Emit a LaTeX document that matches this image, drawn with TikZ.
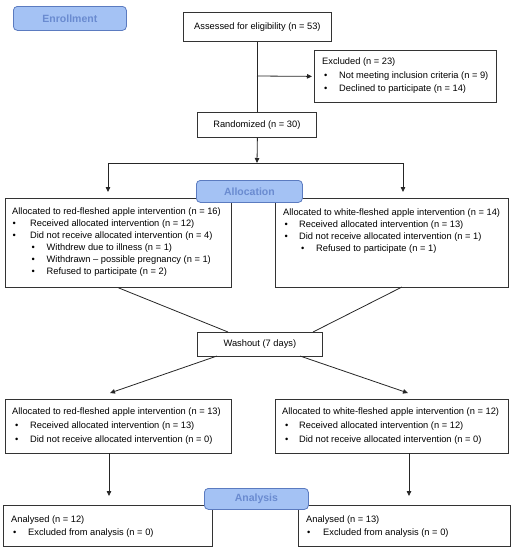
\documentclass[tikz,border=0pt]{standalone}
\usepackage{fontspec}
\setmainfont{Liberation Sans}
\usetikzlibrary{arrows.meta}
\definecolor{lblfill}{HTML}{A4C2F4}
\definecolor{lbldraw}{HTML}{5B7BC0}
\definecolor{lbltext}{HTML}{6A8BD0}
\definecolor{boxline}{HTML}{333333}
\tikzset{
  box/.style={draw=boxline, line width=0.8pt, inner sep=0pt, anchor=north west, font=\fontsize{9.3}{12}\selectfont},
  lbl/.style={draw=lbldraw, fill=lblfill, line width=0.8pt, rounded corners=4pt, inner sep=0pt, anchor=north west, text=lbltext, font=\fontsize{10.5}{12}\selectfont\bfseries},
  txt/.style={anchor=north west, inner sep=0pt, align=left, font=\fontsize{9.3}{12}\selectfont},
  conn/.style={draw=black!85, line width=0.8pt},
  arr/.style={conn, -{Triangle[length=5pt,width=4.5pt]}}
}
\begin{document}
\begin{tikzpicture}[x=1pt,y=-1pt]
\useasboundingbox (0,0) rectangle (513,550);
% boxes
\node[box, minimum width=148pt, minimum height=29pt] (assess) at (183,12) {Assessed for eligibility (n = 53)};
\node[box, minimum width=182pt, minimum height=52pt] (excl) at (314,50) {};
\node[box, minimum width=119pt, minimum height=25pt] (rand) at (197,112) {Randomized (n = 30)};
\node[box, minimum width=226pt, minimum height=89pt] (allocL) at (5,198) {};
\node[box, minimum width=233pt, minimum height=89pt] (allocR) at (275,198) {};
\node[box, minimum width=125pt, minimum height=24pt] (wash) at (197,332) {Washout (7 days)};
\node[box, minimum width=226pt, minimum height=54pt] (fuL) at (5,399) {};
\node[box, minimum width=233pt, minimum height=54pt] (fuR) at (275,399) {};
\node[box, minimum width=209pt, minimum height=41pt] (anL) at (3,505) {};
\node[box, minimum width=212pt, minimum height=41pt] (anR) at (298,505) {};
% texts
\node[txt, font=\fontsize{9.3}{13.5}\selectfont] (exclT) at (322,58) {Excluded (n = 23)\\
\hspace*{2pt}\makebox[15pt][l]{\textbullet}Not meeting inclusion criteria (n = 9)\\
\hspace*{2pt}\makebox[15pt][l]{\textbullet}Declined to participate (n = 14)};
\node[txt] (allocLT) at (12,207.5) {Allocated to red-fleshed apple intervention (n = 16)\\
\hspace*{0.5pt}\makebox[17.5pt][l]{\textbullet}Received allocated intervention (n = 12)\\
\hspace*{0.5pt}\makebox[17.5pt][l]{\textbullet}Did not receive allocated intervention (n = 4)\\
\hspace*{19.5pt}\makebox[15pt][l]{\textbullet}Withdrew due to illness (n = 1)\\
\hspace*{19.5pt}\makebox[15pt][l]{\textbullet}Withdrawn -- possible pregnancy (n = 1)\\
\hspace*{19.5pt}\makebox[15pt][l]{\textbullet}Refused to participate (n = 2)};
\node[txt, font=\fontsize{9.3}{11.7}\selectfont] (allocRT) at (283,209) {Allocated to white-fleshed apple intervention (n = 14)\\
\hspace*{1.5pt}\makebox[14.5pt][l]{\textbullet}Received allocated intervention (n = 13)\\
\hspace*{1.5pt}\makebox[14.5pt][l]{\textbullet}Did not receive allocated intervention (n = 1)\\
\hspace*{18pt}\makebox[15pt][l]{\textbullet}Refused to participate (n = 1)};
\node[txt, font=\fontsize{9.3}{14}\selectfont] (fuLT) at (12,407.5) {Allocated to red-fleshed apple intervention (n = 13)\\
\hspace*{3pt}\makebox[15pt][l]{\textbullet}Received allocated intervention (n = 13)\\
\hspace*{3pt}\makebox[15pt][l]{\textbullet}Did not receive allocated intervention (n = 0)};
\node[txt, font=\fontsize{9.3}{14}\selectfont] (fuRT) at (282,407.5) {Allocated to white-fleshed apple intervention (n = 12)\\
\hspace*{3pt}\makebox[14pt][l]{\textbullet}Received allocated intervention (n = 12)\\
\hspace*{3pt}\makebox[14pt][l]{\textbullet}Did not receive allocated intervention (n = 0)};
\node[txt, font=\fontsize{9.3}{13}\selectfont] (anLT) at (11,515.5) {Analysed (n = 12)\\
\hspace*{2pt}\makebox[15pt][l]{\textbullet}Excluded from analysis (n = 0)};
\node[txt, font=\fontsize{9.3}{13}\selectfont] (anRT) at (306,515.5) {Analysed (n = 13)\\
\hspace*{1pt}\makebox[16pt][l]{\textbullet}Excluded from analysis (n = 0)};
% connectors
\coordinate (j1) at (257,76);
\coordinate (j2) at (257,163);
\coordinate (sl) at (108,163);
\coordinate (sr) at (403,163);
\draw[conn] (assess.south) -- (assess.south |- rand.north);
\draw[arr, shorten >=2pt] (j1) -- (excl.west);
\draw[arr] (assess.south |- rand.south) -- (j2);
\draw[conn] (sl) -- (sr);
\draw[arr, shorten >=6pt] (sl) -- (sl |- allocL.north);
\draw[arr, shorten >=6pt] (sr) -- (sr |- allocR.north);
\coordinate (wl2) at (228,332);
\coordinate (wr1) at (402,287);
\coordinate (wr2) at (313,332);
\draw[conn] (allocL.south) -- (wl2);
\draw[conn] (wr1) -- (wr2);
\coordinate (dl1) at (217,356);
\coordinate (dl2) at (110,393);
\coordinate (dr1) at (300,356);
\coordinate (dr2) at (408,393);
\draw[arr] (dl1) -- (dl2);
\draw[arr] (dr1) -- (dr2);
\coordinate (al1) at (109,453);
\coordinate (al2) at (109,496);
\coordinate (ar1) at (409,453);
\coordinate (ar2) at (409,496);
\draw[arr] (al1) -- (al2);
\draw[arr] (ar1) -- (ar2);
% labels
\node[lbl, minimum width=113pt, minimum height=24pt] (enroll) at (13,6) {Enrollment};
\node[lbl, minimum width=106pt, minimum height=22pt] (alloclab) at (196,180) {Allocation};
\node[lbl, minimum width=104pt, minimum height=21pt] (anlab) at (204,488) {Analysis};
\end{tikzpicture}
\end{document}
